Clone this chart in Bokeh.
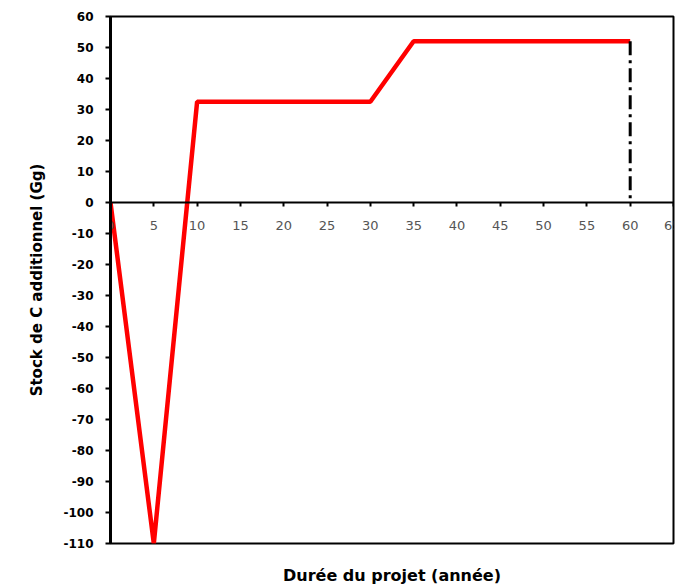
from bokeh.plotting import figure
from bokeh.models import LinearAxis, FixedTicker, Range1d
from bokeh.embed import file_html
from bokeh.resources import INLINE

# Data
years = [0, 5, 10, 30, 35, 60]
stock = [0, -110, 32.5, 32.5, 52, 52]
end_x = [60, 60]
end_y = [52, 0]
x_ticks = [0, 5, 10, 15, 20, 25, 30, 35, 40, 45, 50, 55, 60, 65]
y_ticks = [-110, -100, -90, -80, -70, -60, -50, -40, -30, -20, -10, 0, 10, 20, 30, 40, 50, 60]

FONT = "DejaVu Sans"

p = figure(frame_width=563, frame_height=527, output_backend="svg", toolbar_location=None,
           x_range=Range1d(0, 65), y_range=Range1d(-110, 60),
           min_border_left=110, min_border_top=16, min_border_right=7, min_border_bottom=10,
           background_fill_color="white", border_fill_color="white")
p.outline_line_color = "black"
p.outline_line_width = 2
p.grid.visible = False

# x axis at y = 0
xa = p.xaxis[0]
xa.fixed_location = 0
xa.ticker = FixedTicker(ticks=x_ticks)
xa.major_label_overrides = {t: str(t) for t in x_ticks}
xa.axis_line_width = 2
xa.axis_line_color = "black"
xa.major_tick_line_width = 2
xa.major_tick_in = 0
xa.major_tick_out = 4
xa.minor_tick_line_color = None
xa.major_label_text_font = FONT
xa.major_label_text_font_size = "13px"
xa.major_label_text_color = "#555555"
xa.major_label_standoff = 14

# y axis
ya = p.yaxis[0]
ya.ticker = FixedTicker(ticks=y_ticks)
ya.major_label_overrides = {t: str(t) for t in y_ticks}
ya.axis_line_width = 3
ya.axis_line_color = "black"
ya.major_tick_line_width = 2
ya.major_tick_in = 0
ya.major_tick_out = 5
ya.minor_tick_line_color = None
ya.major_label_text_font = FONT
ya.major_label_text_font_size = "12px"
ya.major_label_text_font_style = "bold"
ya.major_label_text_color = "black"
ya.major_label_standoff = 12
ya.axis_label = "Stock de C additionnel (Gg)"
ya.axis_label_text_font = FONT
ya.axis_label_text_font_size = "15px"
ya.axis_label_text_font_style = "bold"
ya.axis_label_text_color = "black"
ya.axis_label_standoff = 14

# label-only axis at bottom for x title
xl = LinearAxis(ticker=FixedTicker(ticks=[]), axis_line_color=None,
                major_tick_line_color=None, minor_tick_line_color=None,
                major_tick_out=0, major_label_text_font_size="1px",
                axis_label="Durée du projet (année)", axis_label_text_font=FONT,
                axis_label_text_font_size="16px", axis_label_text_font_style="bold",
                axis_label_text_color="black", axis_label_standoff=22)
p.add_layout(xl, "below")

p.line(years, stock, line_color="#FF0000", line_width=4.5)
p.line(end_x, end_y, line_color="black", line_width=3, line_dash="14 5 3 5")

open("out.html", "w").write(file_html(p, INLINE))
